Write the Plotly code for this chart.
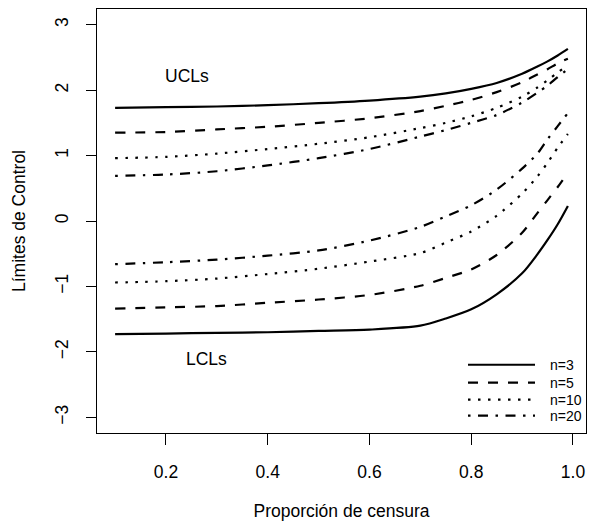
import plotly.graph_objects as go

# ---- data ----
censoring = [0.10, 0.20, 0.30, 0.40, 0.50, 0.60, 0.70, 0.75, 0.80, 0.85, 0.90, 0.93, 0.95, 0.97, 0.99]

ucl_n3  = [1.73, 1.74, 1.75, 1.77, 1.80, 1.84, 1.90, 1.95, 2.02, 2.11, 2.25, 2.36, 2.44, 2.53, 2.63]
ucl_n5  = [1.35, 1.36, 1.40, 1.44, 1.50, 1.57, 1.68, 1.76, 1.85, 1.97, 2.12, 2.24, 2.32, 2.41, 2.48]
ucl_n10 = [0.96, 0.98, 1.03, 1.10, 1.18, 1.28, 1.42, 1.50, 1.60, 1.73, 1.90, 2.04, 2.15, 2.27, 2.38]
ucl_n20 = [0.69, 0.71, 0.76, 0.85, 0.96, 1.10, 1.29, 1.39, 1.50, 1.62, 1.81, 1.96, 2.07, 2.20, 2.32]

lcl_n3  = [-1.73, -1.72, -1.71, -1.70, -1.68, -1.66, -1.60, -1.49, -1.35, -1.12, -0.80, -0.51, -0.29, -0.05, 0.23]
lcl_n5  = [-1.34, -1.32, -1.30, -1.25, -1.20, -1.13, -0.99, -0.87, -0.74, -0.52, -0.18, 0.12, 0.32, 0.52, 0.74]
lcl_n10 = [-0.94, -0.92, -0.88, -0.81, -0.73, -0.62, -0.49, -0.33, -0.16, 0.08, 0.42, 0.68, 0.89, 1.12, 1.33]
lcl_n20 = [-0.66, -0.63, -0.59, -0.53, -0.45, -0.30, -0.09, 0.07, 0.24, 0.48, 0.80, 1.03, 1.25, 1.45, 1.65]

series_names = ["n=3", "n=5", "n=10", "n=20"]
x_ticks = [0.2, 0.4, 0.6, 0.8, 1.0]
x_ticktext = ["0.2", "0.4", "0.6", "0.8", "1.0"]
y_ticks = [-3, -2, -1, 0, 1, 2, 3]
y_ticktext = ["\u22123", "\u22122", "\u22121", "0", "1", "2", "3"]

# ---- styles ----
FONT = "Liberation Sans, Arial, Helvetica, sans-serif"
FS = 17.5
LW = 2.2
dashes = ["solid", "10px,10px", "2.5px,7.5px", "2.5px,7.5px,10px,7.5px"]

fig = go.Figure()
ucls = [ucl_n3, ucl_n5, ucl_n10, ucl_n20]
lcls = [lcl_n3, lcl_n5, lcl_n10, lcl_n20]
for name, dash, u, l in zip(series_names, dashes, ucls, lcls):
    for vals in (u, l):
        fig.add_trace(go.Scatter(
            x=censoring, y=vals, mode="lines", name=name, showlegend=False,
            line=dict(color="black", width=LW, dash=dash, shape="spline", smoothing=0.8),
            hoverinfo="skip"))

# text labels
fig.add_annotation(x=0.241, y=2.21, xref="x", yref="y", text="UCLs", showarrow=False,
                   font=dict(family=FONT, size=FS, color="black"))
fig.add_annotation(x=0.28, y=-2.11, xref="x", yref="y", text="LCLs", showarrow=False,
                   font=dict(family=FONT, size=FS, color="black"))

# manual legend (R style, no box)
leg_y = [0.161, 0.119, 0.0785, 0.041]
for name, dash, yy in zip(series_names, dashes, leg_y):
    fig.add_shape(type="line", xref="paper", yref="paper", x0=0.7587, x1=0.8957, y0=yy, y1=yy,
                  line=dict(color="black", width=LW, dash=dash))
    fig.add_annotation(xref="paper", yref="paper", x=0.922, y=yy, text=name, showarrow=False,
                       xanchor="left", yanchor="middle",
                       font=dict(family=FONT, size=14, color="black"))

fig.update_layout(
    width=592, height=522,
    margin=dict(l=97, r=6, t=9, b=89),
    paper_bgcolor="white", plot_bgcolor="white",
    font=dict(family=FONT, size=FS, color="black"),
    showlegend=False,
)
fig.update_xaxes(
    range=[0.0644, 1.0256], tickvals=x_ticks, ticktext=x_ticktext,
    ticks="outside", ticklen=10.5, tickwidth=1, tickcolor="black",
    showline=True, linecolor="black", linewidth=1, mirror=True,
    showgrid=False, zeroline=False, ticklabelstandoff=12,
    title=dict(text="Proporción de censura", standoff=24, font=dict(size=FS)),
    automargin=False,
)
fig.update_yaxes(
    range=[-3.24, 3.24], tickvals=y_ticks, ticktext=y_ticktext, tickangle=-90,
    ticks="outside", ticklen=10.5, tickwidth=1, tickcolor="black",
    showline=True, linecolor="black", linewidth=1, mirror=True,
    showgrid=False, zeroline=False, ticklabelstandoff=11,
    title=dict(text="Límites de Control", standoff=21, font=dict(size=FS)),
    automargin=False,
)

fig.write_html("out.html")
